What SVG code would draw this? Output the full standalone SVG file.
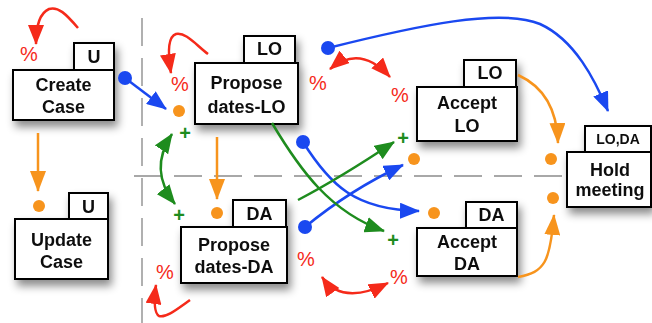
<svg xmlns="http://www.w3.org/2000/svg" width="652" height="323" viewBox="0 0 652 323">
<style>
.box{fill:#fff;stroke:#000;stroke-width:2}
.lbl{font-family:"Liberation Sans",Arial,sans-serif;font-weight:bold;font-size:18px;fill:#111;text-anchor:middle}
.tag{font-family:"Liberation Sans",Arial,sans-serif;font-weight:bold;font-size:18px;fill:#111;text-anchor:middle}
.pct{font-family:"Liberation Sans",Arial,sans-serif;font-size:20px;fill:#f52a1a;text-anchor:middle}
.plus{font-family:"Liberation Sans",Arial,sans-serif;font-weight:bold;font-size:20px;fill:#1e8c1e;text-anchor:middle}
.dash{stroke:#a8a8a8;stroke-width:1.8;stroke-dasharray:28 12;fill:none}
.r{stroke:#f52a1a;stroke-width:2.5;fill:none}
.b{stroke:#1a48f0;stroke-width:2.5;fill:none}
.g{stroke:#1e8c1e;stroke-width:2.5;fill:none}
.o{stroke:#f7941d;stroke-width:2.5;fill:none}
.od{fill:#f7941d}
.bd{fill:#1a48f0}
</style>
<defs>
<filter id="sh" x="-20%" y="-20%" width="150%" height="170%">
<feDropShadow dx="3" dy="6" stdDeviation="4" flood-color="#000" flood-opacity="0.45"/>
</filter>
<marker id="ar" markerUnits="userSpaceOnUse" markerWidth="20" markerHeight="16" refX="19" refY="8" orient="auto-start-reverse"><path d="M0,0 L20,8 L0,16 z" fill="#f52a1a"/></marker>
<marker id="ab" markerUnits="userSpaceOnUse" markerWidth="20" markerHeight="16" refX="19" refY="8" orient="auto-start-reverse"><path d="M0,0 L20,8 L0,16 z" fill="#1a48f0"/></marker>
<marker id="ag" markerUnits="userSpaceOnUse" markerWidth="20" markerHeight="16" refX="19" refY="8" orient="auto-start-reverse"><path d="M0,0 L20,8 L0,16 z" fill="#1e8c1e"/></marker>
<marker id="ao" markerUnits="userSpaceOnUse" markerWidth="21" markerHeight="16" refX="20" refY="8" orient="auto-start-reverse"><path d="M0,0 L21,8 L0,16 z" fill="#f7941d"/></marker>
</defs>
<rect width="652" height="323" fill="#fff"/>
<g id="swimlanes">
<line class="dash" x1="142" y1="18" x2="142" y2="323"/>
<line class="dash" x1="134" y1="176" x2="652" y2="176"/>
</g>
<g id="create-case" filter="url(#sh)">
<rect class="box" x="74" y="43" width="40" height="27"/>
<rect class="box" x="13" y="70" width="101" height="50"/>
<text class="tag" x="94" y="63">U</text>
<text class="lbl" x="63.5" y="91">Create</text>
<text class="lbl" x="63.5" y="113">Case</text>
</g>
<g id="update-case" filter="url(#sh)">
<rect class="box" x="69" y="193" width="39" height="26"/>
<rect class="box" x="15" y="219" width="93" height="60"/>
<text class="tag" x="88.5" y="213">U</text>
<text class="lbl" x="61.5" y="246">Update</text>
<text class="lbl" x="61.5" y="268">Case</text>
</g>
<g id="propose-lo" filter="url(#sh)">
<rect class="box" x="244" y="36" width="51" height="27"/>
<rect class="box" x="195" y="63" width="103" height="61"/>
<text class="tag" x="269.5" y="55">LO</text>
<text class="lbl" x="246.5" y="89">Propose</text>
<text class="lbl" x="246.5" y="113">dates-LO</text>
</g>
<g id="propose-da" filter="url(#sh)">
<rect class="box" x="233" y="200" width="53" height="27"/>
<rect class="box" x="181" y="227" width="106" height="56"/>
<text class="tag" x="259.5" y="220">DA</text>
<text class="lbl" x="234" y="251">Propose</text>
<text class="lbl" x="234" y="273">dates-DA</text>
</g>
<g id="accept-lo" filter="url(#sh)">
<rect class="box" x="464" y="60" width="52" height="27"/>
<rect class="box" x="417" y="87" width="100" height="54"/>
<text class="tag" x="490" y="79">LO</text>
<text class="lbl" x="467" y="109">Accept</text>
<text class="lbl" x="467" y="132">LO</text>
</g>
<g id="accept-da" filter="url(#sh)">
<rect class="box" x="466" y="202" width="51" height="26"/>
<rect class="box" x="417" y="228" width="100" height="48"/>
<text class="tag" x="491.5" y="221">DA</text>
<text class="lbl" x="467" y="248">Accept</text>
<text class="lbl" x="467" y="270">DA</text>
</g>
<g id="hold-meeting" filter="url(#sh)">
<rect class="box" x="585" y="126" width="66" height="26"/>
<rect class="box" x="567" y="152" width="84" height="55"/>
<text class="tag" x="618" y="144" style="font-size:14px">LO,DA</text>
<text class="lbl" x="610" y="176">Hold</text>
<text class="lbl" x="610" y="196">meeting</text>
</g>
<g id="connectors">
<path class="r" d="M78,28 C66,14 58,6 49,9 C40,13 36,26 36,44" marker-end="url(#ar)"/>
<path class="r" d="M208,54 C196,45 186,32 176,34 C167,37 168,55 171,73" marker-end="url(#ar)"/>
<path class="r" d="M330,69 Q360,44 390,77" marker-start="url(#ar)" marker-end="url(#ar)"/>
<path class="r" d="M322,277 Q342,306 388,283" marker-start="url(#ar)" marker-end="url(#ar)"/>
<path class="r" d="M190,300 C176,310 166,318 159,316 C154,313 154,300 156,285" marker-end="url(#ar)"/>
<path class="b" d="M125,78 L166,109" marker-end="url(#ab)"/>
<path class="b" d="M328,48 C420,25 500,8 540,24 C575,40 595,80 608,111" marker-end="url(#ab)"/>
<path class="b" d="M303,142 C330,185 355,210 419,211" marker-end="url(#ab)"/>
<path class="b" d="M305,227 Q350,190 403,165" marker-end="url(#ab)"/>
<path class="g" d="M272,123 C300,170 330,212 384,231" marker-end="url(#ag)"/>
<path class="g" d="M298,200 Q340,178 394,142" marker-end="url(#ag)"/>
<path class="g" d="M172,134 Q148,170 175,204" marker-start="url(#ag)" marker-end="url(#ag)"/>
<path class="o" d="M38,133 L38,191" marker-end="url(#ao)"/>
<path class="o" d="M217,137 L217,199" marker-end="url(#ao)"/>
<path class="o" d="M518,75 C540,85 557,105 558,143" marker-end="url(#ao)"/>
<path class="o" d="M518,277 C545,272 550,262 554,215" marker-end="url(#ao)"/>
<circle class="bd" cx="125" cy="78" r="7"/>
<circle class="bd" cx="328" cy="48" r="7"/>
<circle class="bd" cx="303" cy="142" r="7"/>
<circle class="bd" cx="305" cy="227" r="7"/>
</g>
<g id="ports">
<circle class="od" cx="179" cy="111" r="6"/>
<circle class="od" cx="39" cy="206" r="6"/>
<circle class="od" cx="217" cy="213" r="6"/>
<circle class="od" cx="414" cy="159" r="6"/>
<circle class="od" cx="434" cy="213" r="6"/>
<circle class="od" cx="551" cy="159" r="6"/>
<circle class="od" cx="553" cy="198" r="6"/>
<text class="plus" x="185" y="140">+</text>
<text class="plus" x="179" y="222">+</text>
<text class="plus" x="403" y="145">+</text>
<text class="plus" x="393" y="247">+</text>
<text class="pct" x="29" y="61">%</text>
<text class="pct" x="180" y="91">%</text>
<text class="pct" x="318" y="90">%</text>
<text class="pct" x="400" y="102">%</text>
<text class="pct" x="165" y="279">%</text>
<text class="pct" x="306" y="266">%</text>
<text class="pct" x="399" y="284">%</text>
</g>
</svg>
